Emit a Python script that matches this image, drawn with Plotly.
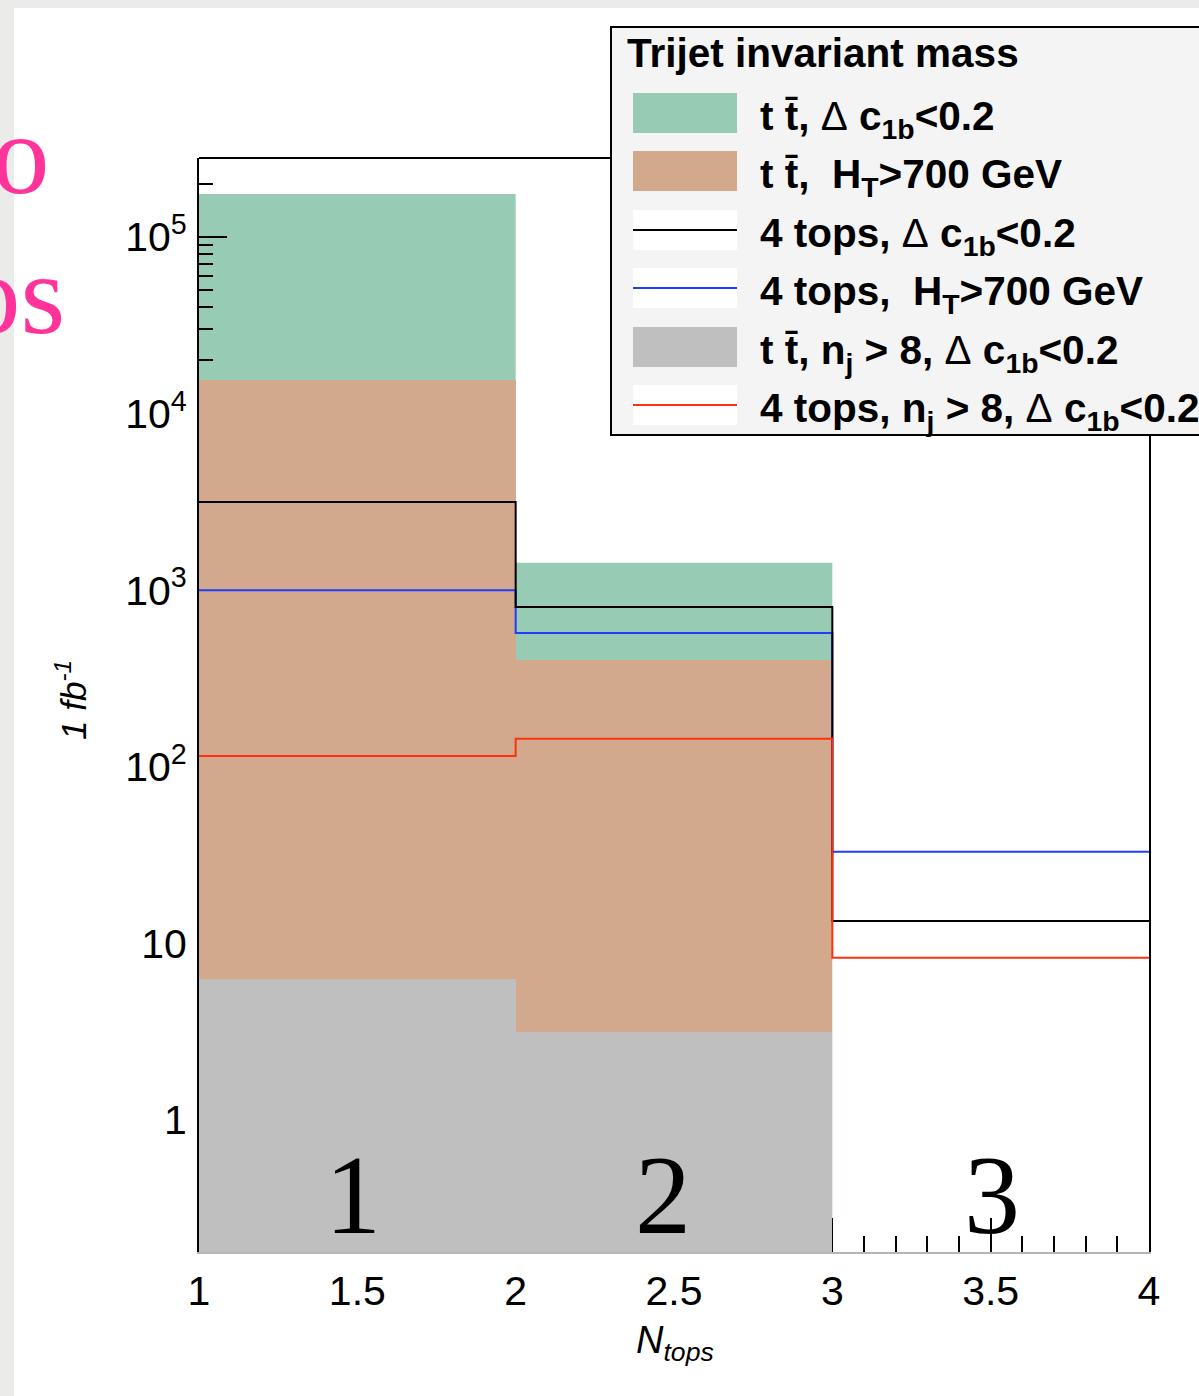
import plotly.graph_objects as go

# ---------------- data ----------------
bin_edges = [1, 2, 3, 4]
bin_centers = [1.5, 2.5, 3.5]
tt_dc = [1.75e5, 1.43e3, None]     # t tbar, dc1b<0.2  (green fill)
tt_ht = [1.55e4, 402, None]        # t tbar, HT>700   (brown fill)
tt_nj = [6.3, 3.15, None]          # t tbar, nj>8     (grey fill)
t4_dc = [3160, 803, 13.4]          # 4 tops, dc1b<0.2 (black line)
t4_ht = [1000, 572, 33]            # 4 tops, HT>700   (blue line)
t4_nj = [115, 144, 8.3]            # 4 tops, nj>8     (red line)
bin_labels = ["1", "2", "3"]
ytick_vals = [1, 10, 100, 1000, 1e4, 1e5]
ytick_text = ["1", "10", "10<sup>2</sup>", "10<sup>3</sup>", "10<sup>4</sup>", "10<sup>5</sup>"]
xtick_vals = [1, 1.5, 2, 2.5, 3, 3.5, 4]
xtick_text = ["1", "1.5", "2", "2.5", "3", "3.5", "4"]
legend_title = "Trijet invariant mass"
legend_labels = [
    "t t\u0304, <span style='font-weight:normal'>\u0394</span> c<sub>1b</sub>&lt;0.2",
    "t t\u0304,  H<sub>T</sub>&gt;700 GeV",
    "4 tops, <span style='font-weight:normal'>\u0394</span> c<sub>1b</sub>&lt;0.2",
    "4 tops,  H<sub>T</sub>&gt;700 GeV",
    "t t\u0304, n<sub>j</sub> &gt; 8, <span style='font-weight:normal'>\u0394</span> c<sub>1b</sub>&lt;0.2",
    "4 tops, n<sub>j</sub> &gt; 8, <span style='font-weight:normal'>\u0394</span> c<sub>1b</sub>&lt;0.2",
]

# ---------------- style ----------------
GREEN = "#97cbb4"
BROWN = "#d2a98c"
GREY = "#bfbfbf"
BLACK = "#000000"
BLUE = "#1f3cff"
RED = "#ff3010"
PINK = "#ff3399"
W, H = 1199, 1396
ML, MR, MT, MB = 199, 50, 158, 144
PW, PH = W - ML - MR, H - MT - MB
YRANGE = [-0.7475, 5.447]
SANS = "Liberation Sans, Arial, sans-serif"
SERIF = "Liberation Serif, Times New Roman, serif"


def px(x):
    return (x - ML) / PW


def py(y):
    return (H - MB - y) / PH


fig = go.Figure()

fig.add_trace(go.Bar(x=bin_centers, y=tt_ht, width=1, marker=dict(color=BROWN, line=dict(width=0)),
                     showlegend=False))
fig.add_trace(go.Bar(x=bin_centers, y=tt_nj, width=1, marker=dict(color=GREY, line=dict(width=0)),
                     showlegend=False))


def step(vals):
    return vals + [vals[-1]]


for vals, col in [(t4_ht, BLUE), (t4_dc, BLACK), (t4_nj, RED)]:
    fig.add_trace(go.Scatter(x=bin_edges, y=step(vals), mode="lines", line=dict(color=col, width=2, shape="hv"),
                             showlegend=False))

shapes = []
# page: gray border strips and white panel
shapes.append(dict(type="rect", xref="paper", yref="paper", x0=px(14), x1=px(W + 20), y0=py(H + 20), y1=py(8),
                   fillcolor="white", line=dict(width=0), layer="below"))
# green histogram (drawn under the axis, like ROOT)
ybottom = 10 ** YRANGE[0]
for i, v in enumerate(tt_dc):
    if v:
        shapes.append(dict(type="rect", xref="x", yref="y", x0=bin_edges[i], x1=bin_edges[i + 1],
                           y0=ybottom, y1=v, fillcolor=GREEN, line=dict(width=0), layer="below"))
# top frame
shapes.append(dict(type="line", xref="paper", yref="paper", x0=0, x1=1, y0=1, y1=1,
                   line=dict(color="black", width=2), layer="above"))

# legend box
shapes.append(dict(type="rect", xref="paper", yref="paper", x0=px(611), x1=px(W + 30), y0=py(435), y1=py(27),
                   fillcolor="#f4f4f4", line=dict(color="black", width=2), layer="above"))
row_centers = [113, 171, 230, 288, 347, 405]
swatches = [("fill", GREEN), ("fill", BROWN), ("line", BLACK), ("line", BLUE), ("fill", GREY), ("line", RED)]
annotations = []
LFS = 40.5
for (kind, col), yc, lab in zip(swatches, row_centers, legend_labels):
    if kind == "fill":
        shapes.append(dict(type="rect", xref="paper", yref="paper", x0=px(633), x1=px(737),
                           y0=py(yc + 20), y1=py(yc - 20), fillcolor=col, line=dict(width=0), layer="above"))
    else:
        shapes.append(dict(type="rect", xref="paper", yref="paper", x0=px(633), x1=px(737),
                           y0=py(yc + 20), y1=py(yc - 20), fillcolor="white", line=dict(width=0), layer="above"))
        shapes.append(dict(type="line", xref="paper", yref="paper", x0=px(633), x1=px(737),
                           y0=py(yc), y1=py(yc), line=dict(color=col, width=2), layer="above"))
    annotations.append(dict(xref="paper", yref="paper", x=px(758), y=py(yc + 15 - 37), xanchor="left",
                            yanchor="top", text=lab, showarrow=False,
                            font=dict(family=SANS, size=LFS, color="black", weight="bold")))

annotations.append(dict(xref="paper", yref="paper", x=px(625), y=py(53), xanchor="left", yanchor="middle",
                        text=legend_title, showarrow=False,
                        font=dict(family=SANS, size=LFS, color="black", weight="bold")))

# big bin labels
for xc, lab in zip([1.486, 2.465, 3.504], bin_labels):
    annotations.append(dict(xref="x", yref="paper", x=xc, y=py(1195), xanchor="center", yanchor="middle",
                            text=lab, showarrow=False, font=dict(family=SERIF, size=112, color="black")))

# axis titles
annotations.append(dict(xref="paper", yref="paper", x=px(71), y=py(700), xanchor="center", yanchor="middle",
                        text="<i>1 fb<sup>-1</sup></i>", textangle=-90, showarrow=False,
                        font=dict(family=SANS, size=35, color="black")))
annotations.append(dict(xref="paper", yref="paper", x=px(675), y=py(1343), xanchor="center", yanchor="middle",
                        text="<i>N<sub>tops</sub></i>", showarrow=False,
                        font=dict(family=SANS, size=38, color="black")))

# pink slide text cut at the edge
annotations.append(dict(xref="paper", yref="paper", x=px(52), y=py(154), xanchor="right", yanchor="middle",
                        text="o", showarrow=False, font=dict(family=SERIF, size=115, color=PINK)))
annotations.append(dict(xref="paper", yref="paper", x=px(67), y=py(294), xanchor="right", yanchor="middle",
                        text="os", showarrow=False, font=dict(family=SERIF, size=115, color=PINK)))

fig.update_layout(
    width=W, height=H, autosize=False,
    margin=dict(l=ML, r=MR, t=MT, b=MB, pad=0),
    paper_bgcolor="#ebebe9", plot_bgcolor="rgba(0,0,0,0)",
    barmode="overlay", bargap=0, hovermode=False, showlegend=False,
    shapes=shapes, annotations=annotations,
    xaxis=dict(range=[1, 4], tickmode="array", tickvals=xtick_vals, ticktext=xtick_text,
               ticks="inside", ticklen=34, tickwidth=2, tickcolor="black",
               minor=dict(ticks="inside", ticklen=16, tickwidth=2, tickcolor="black", dtick=0.1, tick0=1,
                          showgrid=False),
               showline=True, linecolor="#b8b4b0", linewidth=2, mirror=False, showgrid=False, zeroline=False,
               layer="below traces", ticklabelstandoff=2,
               tickfont=dict(family=SANS, size=41, color="black")),
    yaxis=dict(type="log", range=YRANGE, tickmode="array", tickvals=ytick_vals, ticktext=ytick_text,
               ticks="inside", ticklen=28, tickwidth=2, tickcolor="black",
               minor=dict(ticks="inside", ticklen=14, tickwidth=2, tickcolor="black", dtick="D1",
                          showgrid=False),
               showline=True, linecolor="black", linewidth=2, mirror=True, showgrid=False, zeroline=False,
               layer="below traces", ticklabelstandoff=2,
               tickfont=dict(family=SANS, size=41, color="black")),
)

fig.write_html("out.html", config={"displayModeBar": False},
               post_script="document.body.style.margin='0';")
